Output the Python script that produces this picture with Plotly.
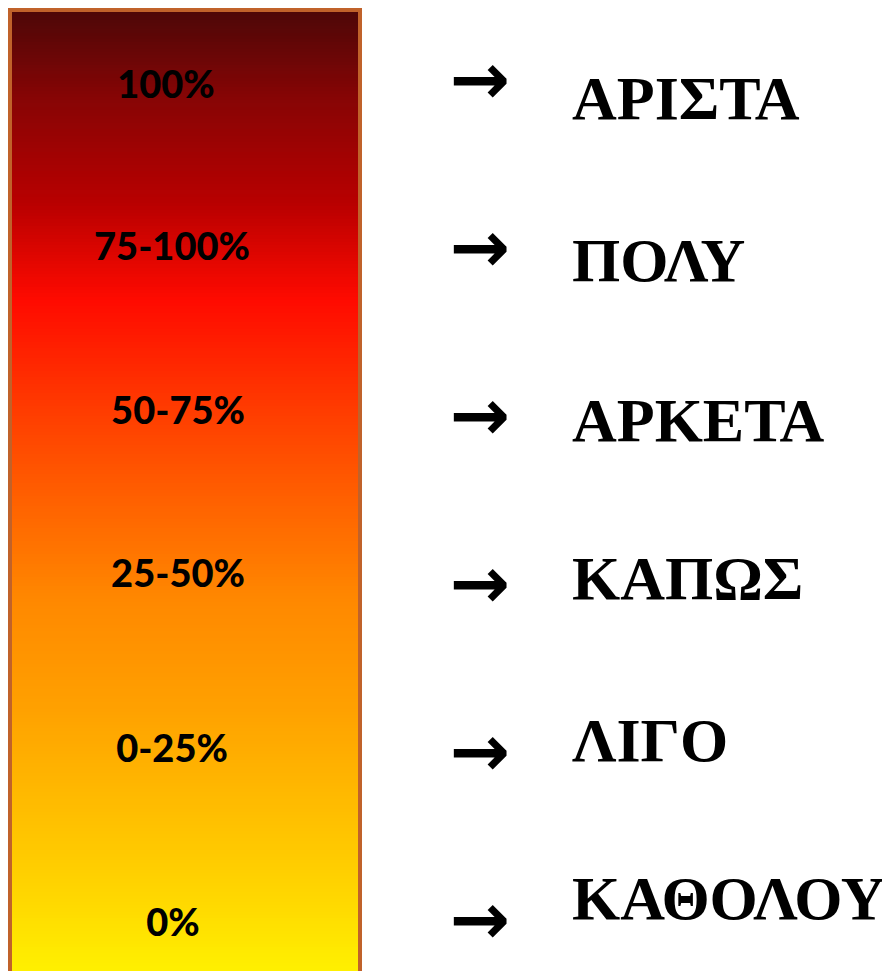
import plotly.graph_objects as go

# ---- data ----
percent_labels = ["100%", "75-100%", "50-75%", "25-50%", "0-25%", "0%"]
rating_labels = ["ΑΡΙΣΤΑ", "ΠΟΛΥ", "ΑΡΚΕΤΑ", "ΚΑΠΩΣ", "ΛΙΓΟ", "ΚΑΘΟΛΟΥ"]
percent_x = [166, 172, 178, 178, 172, 173]
percent_y = [88, 250, 414, 577, 752, 926]
arrow_y = [86, 254, 422, 590, 758, 926]
rating_y = [103, 265, 425, 583, 745, 903]

# gradient colour stops (position along bar from top 0 -> bottom 1)
grad_stops = [0.0, 0.09, 0.2, 0.3, 0.41, 0.49, 0.61, 0.72, 0.82, 0.91, 1.0]
grad_colors = ["#4c0707", "#860505", "#b80000", "#ff0a00", "#ff3a00", "#ff5a00",
               "#ff8800", "#ffa000", "#ffbb00", "#ffd400", "#fff200"]

bar_top, bar_bottom = 10, 976
bar_left, bar_right = 10, 360
n_rows = 300

fig = go.Figure()

y_edges = [bar_top + (bar_bottom - bar_top) * i / n_rows for i in range(n_rows + 1)]
z = [[(i + 0.5) / n_rows] for i in range(n_rows)]
fig.add_trace(go.Heatmap(
    x=[bar_left, bar_right], y=y_edges, z=z,
    colorscale=[[s, c] for s, c in zip(grad_stops, grad_colors)],
    zmin=0, zmax=1, showscale=False, hoverinfo="skip",
))

fig.add_shape(type="rect", x0=bar_left, x1=bar_right, y0=bar_top, y1=bar_bottom + 10,
              line=dict(color="#c0622a", width=4), fillcolor="rgba(0,0,0,0)")

fig.add_trace(go.Scatter(
    x=percent_x, y=percent_y, mode="text", text=percent_labels,
    textfont=dict(family="Lato", size=38, color="#000000", weight=900),
    hoverinfo="skip",
))
fig.add_trace(go.Scatter(
    x=[480] * len(arrow_y), y=arrow_y, mode="text", text=["→"] * len(arrow_y),
    textfont=dict(family="DejaVu Sans", size=72, color="#000000", weight="bold"),
    hoverinfo="skip",
))
fig.add_trace(go.Scatter(
    x=[572] * len(rating_y), y=rating_y, mode="text", text=rating_labels,
    textposition="middle right",
    textfont=dict(family="Liberation Serif", size=62, color="#000000", weight="bold"),
    hoverinfo="skip",
))

fig.update_layout(
    width=890, height=971, margin=dict(l=0, r=0, t=0, b=0),
    paper_bgcolor="white", plot_bgcolor="white", showlegend=False,
    xaxis=dict(range=[8, 898], visible=False, fixedrange=True),
    yaxis=dict(range=[979, 8], visible=False, fixedrange=True),
)

fig.write_html("out.html")
